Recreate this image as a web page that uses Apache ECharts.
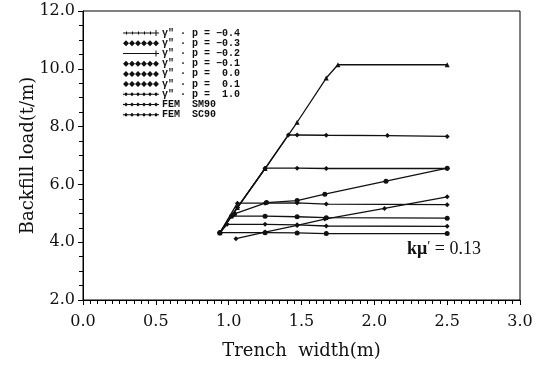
<!DOCTYPE html>
<html>
<head>
<meta charset="utf-8">
<script src="https://cdn.jsdelivr.net/npm/echarts@6/dist/echarts.min.js"></script>
<style>
  html, body { margin: 0; padding: 0; background: #fff; }
  #chart { width: 537px; height: 373px; }
</style>
</head>
<body>
<div id="chart"></div>
<script>
// Backfill load versus trench width, kμ' = 0.13
const xTicks = [0.0, 0.5, 1.0, 1.5, 2.0, 2.5, 3.0];
const yTicks = [2.0, 4.0, 6.0, 8.0, 10.0, 12.0];

const seriesNames = [
  "γ″ · p = −0.4",
  "γ″ · p = −0.3",
  "γ″ · p = −0.2",
  "γ″ · p = −0.1",
  "γ″ · p =  0.0",
  "γ″ · p =  0.1",
  "γ″ · p =  1.0",
  "FEM  SM90",
  "FEM  SC90"
];

// [trench width (m), backfill load (t/m)]
const rpNeg04 = [[0.94, 4.33], [1.25, 4.33], [1.47, 4.32], [1.67, 4.30], [2.50, 4.30]];
const rpNeg03 = [[0.94, 4.33], [0.99, 4.62], [1.25, 4.62], [1.47, 4.60], [1.67, 4.56], [2.50, 4.55]];
const rpNeg02 = [[0.94, 4.33], [1.02, 4.90], [1.25, 4.90], [1.47, 4.88], [1.67, 4.85], [2.50, 4.83]];
const rpNeg01 = [[0.94, 4.33], [1.06, 5.35], [1.25, 5.35], [1.47, 5.36], [1.67, 5.32], [2.50, 5.30]];
const rpZero  = [[0.94, 4.33], [1.06, 5.20], [1.25, 6.56], [1.47, 6.56], [1.67, 6.55], [2.50, 6.55]];
const rpPos01 = [[0.94, 4.33], [1.06, 5.20], [1.25, 6.55], [1.41, 7.71], [1.47, 7.71], [1.67, 7.70], [2.09, 7.69], [2.50, 7.66]];
const rpPos10 = [[0.94, 4.33], [1.06, 5.20], [1.25, 6.55], [1.47, 8.15], [1.67, 9.68], [1.75, 10.14], [2.50, 10.14]];
const femSM90 = [[1.04, 4.98], [1.26, 5.37], [1.47, 5.44], [1.66, 5.66], [2.08, 6.11], [2.50, 6.56]];
const femSC90 = [[1.05, 4.12], [1.25, 4.35], [1.47, 4.58], [1.66, 4.80], [2.07, 5.17], [2.50, 5.57]];

const seriesData = [rpNeg04, rpNeg03, rpNeg02, rpNeg01, rpZero, rpPos01, rpPos10, femSM90, femSC90];

// legend sample glyphs (36 x 6 box)
function diamonds(h) {
  let p = '';
  for (let i = 0; i < 6; i++) {
    const cx = 3 + i * 6;
    p += `M${cx - h},3L${cx},${3 - h}L${cx + h},3L${cx},${3 + h}Z`;
  }
  return p;
}
const lineBar = 'M0,2.5H36V3.5H0Z';
const iconHeavy = 'path://' + diamonds(3);
const iconSmall = 'path://' + lineBar + diamonds(2) + 'M0,0H0.1V6H0Z';
const iconPlus = 'path://' + 'M0,2.4H36V3.6H0Z' + 'M32.5,0H33.5V6H32.5Z';
let tickPath = 'M0,2.5H36V3.5H0Z';
for (let i = 0; i < 5; i++) tickPath += `M${3 + i * 6},1.5H${4 + i * 6}V4.5H${3 + i * 6}Z`;
tickPath += 'M32.5,0H33.5V6H32.5Z';
const iconTicks = 'path://' + tickPath;
const legendIcons = [iconTicks, iconHeavy, iconPlus, iconHeavy, iconHeavy, iconHeavy, iconSmall, iconSmall, iconSmall];
const markerShapes = ['circle', 'diamond', 'circle', 'diamond', 'diamond', 'diamond', 'triangle', 'circle', 'diamond'];

const serif = 'DejaVu Serif';

const chart = echarts.init(document.getElementById('chart'), null, { renderer: 'canvas' });

chart.setOption({
  animation: false,
  backgroundColor: '#fff',
  grid: {
    left: 83, right: 17, top: 11, bottom: 73,
    show: true, borderColor: '#000', borderWidth: 1, backgroundColor: 'transparent'
  },
  legend: {
    orient: 'vertical',
    left: 118, top: 23,
    itemWidth: 36, itemHeight: 6, itemGap: 0,
    textStyle: { fontFamily: 'Liberation Mono', fontSize: 10, fontWeight: 'bold', color: '#111', lineHeight: 10.2, padding: [0, 0, 0, -2] },
    data: seriesNames.map((n, i) => ({ name: n, icon: legendIcons[i], itemStyle: { color: '#111' } }))
  },
  xAxis: {
    type: 'value',
    min: xTicks[0], max: xTicks[xTicks.length - 1], interval: 0.5,
    name: 'Trench  width(m)',
    nameLocation: 'middle', nameGap: 42, nameMoveOverlap: false,
    nameTextStyle: { fontFamily: serif, fontSize: 18, color: '#111' },
    axisLine: { show: true, onZero: false, lineStyle: { color: '#000', width: 1 } },
    axisTick: { show: true, inside: false, length: 5, lineStyle: { color: '#000' } },
    minorTick: { show: true, splitNumber: 10, length: 4, lineStyle: { color: '#000' } },
    axisLabel: { fontFamily: serif, fontSize: 16, color: '#111', margin: 14, formatter: v => v.toFixed(1) },
    splitLine: { show: false }
  },
  yAxis: {
    type: 'value',
    min: yTicks[0], max: yTicks[yTicks.length - 1], interval: 2,
    name: 'Backfill load(t/m)',
    nameLocation: 'middle', nameGap: 46, nameRotate: 90, nameMoveOverlap: false,
    nameTextStyle: { fontFamily: serif, fontSize: 18, color: '#111' },
    axisLine: { show: true, onZero: false, lineStyle: { color: '#000', width: 1 } },
    axisTick: { show: true, inside: false, length: 5, lineStyle: { color: '#000' } },
    minorTick: { show: true, splitNumber: 4, length: 4, lineStyle: { color: '#000' } },
    axisLabel: { fontFamily: serif, fontSize: 16, color: '#111', margin: 8, formatter: v => v.toFixed(1) },
    splitLine: { show: false }
  },
  graphic: [{
    type: 'text',
    left: 407, top: 240,
    style: {
      text: '{k|kμ}{p|′}{t| = 0.13}',
      rich: {
        k: { fontFamily: 'Liberation Serif', fontSize: 18, fontWeight: 'bold', fill: '#111' },
        p: { fontFamily: 'Liberation Serif', fontSize: 14, fill: '#111', verticalAlign: 'top' },
        t: { fontFamily: 'Liberation Serif', fontSize: 18, fill: '#111' }
      }
    }
  }],
  series: seriesData.map((d, i) => ({
    name: seriesNames[i],
    type: 'line',
    data: d,
    symbol: markerShapes[i],
    symbolSize: 5,
    showSymbol: true,
    lineStyle: { color: '#111', width: 1.3 },
    itemStyle: { color: '#111' },
    emphasis: { disabled: true }
  }))
});
</script>
</body>
</html>
